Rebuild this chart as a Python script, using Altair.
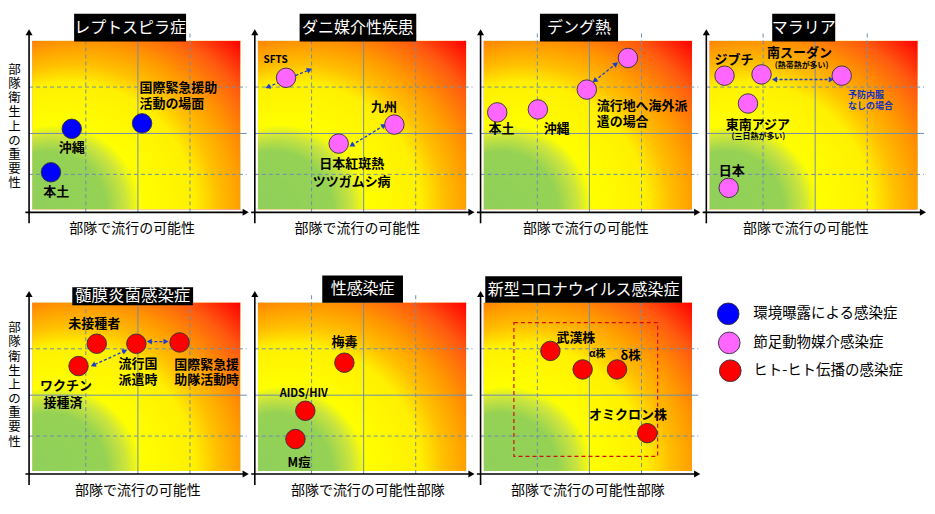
import math
import altair as alt
import pandas as pd

# ---------------- data ----------------
titles = ["レプトスピラ症", "ダニ媒介性疾患", "デング熱", "マラリア",
          "髄膜炎菌感染症", "性感染症", "新型コロナウイルス感染症"]
x_titles = ["部隊で流行の可能性"] * 5 + ["部隊で流行の可能性部隊"] * 2
y_title = "部隊衛生上の重要性"

kinds = ["環境曝露による感染症", "節足動物媒介感染症", "ヒト-ヒト伝播の感染症"]
panel_kind = [0, 1, 1, 1, 2, 2, 2]

# circles (panel, x = 流行の可能性, y = 重要性)
pt_panel = [0, 0, 0, 1, 1, 1, 2, 2, 2, 2, 3, 3, 3, 3, 3, 4, 4, 4, 4, 5, 5, 5, 6, 6, 6, 6]
pt_x = [0.76, 0.36, 2.11, 0.54, 2.62, 1.55, 0.26, 1.04, 1.98, 2.77,
        0.29, 1.00, 2.54, 0.74, 0.37, 1.24, 2.00, 2.83, 0.89,
        1.66, 0.91, 0.72, 1.28, 1.90, 2.56, 3.14]
pt_y = [1.91, 0.88, 2.04, 3.12, 2.01, 1.56, 2.30, 2.37, 2.84, 3.59,
        3.17, 3.20, 3.17, 2.51, 0.51, 3.02, 3.02, 3.05, 2.49,
        2.57, 1.43, 0.76, 2.85, 2.41, 2.41, 0.90]

# point labels
lab_panel = [0, 0, 0, 0,
             1, 1, 1, 1,
             2, 2, 2, 2,
             3, 3, 3, 3, 3, 3, 3, 3,
             4, 4, 4, 4, 4, 4, 4,
             5, 5, 5,
             6, 6, 6, 6]
lab_text = ["国際緊急援助", "活動の場面", "沖縄", "本土",
            "SFTS", "九州", "日本紅斑熱", "ツツガムシ病",
            "本土", "沖縄", "流行地へ海外派", "遣の場合",
            "ジブチ", "南スーダン", "(熱帯熱が多い)", "予防内服", "なしの場合",
            "東南アジア", "(三日熱が多い)", "日本",
            "未接種者", "流行国", "派遣時", "国際緊急援", "助隊活動時", "ワクチン", "接種済",
            "梅毒", "AIDS/HIV", "M痘",
            "武漢株", "α株", "δ株", "オミクロン株"]
lab_x = [2.06, 2.06, 0.76, 0.46,
         0.34, 2.42, 1.80, 1.80,
         0.34, 1.40, 2.17, 2.17,
         0.47, 1.73, 1.77, 2.66, 2.66, 0.93, 0.94, 0.43,
         1.19, 2.03, 2.03, 3.35, 3.35, 0.65, 0.59,
         1.66, 0.88, 0.79,
         1.77, 2.18, 2.82, 2.77]
lab_y = [2.87, 2.49, 1.46, 0.41,
         3.55, 2.43, 1.08, 0.64,
         1.91, 1.91, 2.44, 2.08,
         3.55, 3.71, 3.41, 2.72, 2.45, 2.01, 1.71, 0.91,
         3.48, 2.53, 2.17, 2.51, 2.16, 2.01, 1.62,
         3.06, 1.82, 0.19,
         3.16, 2.77, 2.73, 1.33]

# dashed double arrows
arr_panel = [1, 1, 2, 3, 4, 4]
arr_x1 = [0.19, 1.80, 2.13, 1.25, 2.25, 1.78]
arr_y1 = [2.90, 1.52, 3.05, 3.08, 3.07, 2.85]
arr_x2 = [0.99, 2.42, 2.54, 2.34, 2.57, 1.17]
arr_y2 = [3.31, 1.99, 3.45, 3.08, 3.07, 2.51]

# COVID-19 frame (panel 7)
covid_box = [0.58, 0.35, 3.34, 3.52]

# ---------------- layout / style ----------------
FONT = "Noto Sans CJK JP"
W, H = 220, 209
XD = [-0.1, 4.12]
YD = [-0.3, 4.65]
SX = W / (XD[1] - XD[0])
SY = H / (YD[1] - YD[0])
kind_colors = ["#0000ff", "#ff66ff", "#ff0000"]
grid_x = [1.03, 2.03, 3.03]
grid_y = [0.83, 1.80, 2.90]

title_cx = [1.88, 1.92, 1.83, 1.81, 1.93, 2.01, 1.92]
title_w = [2.15, 2.24, 1.50, 1.21, 2.32, 1.55, 3.78]
title_y0 = [3.98, 3.98, 3.98, 3.98, 3.93, 3.99, 3.99]
title_y1 = [4.64, 4.64, 4.64, 4.64, 4.36, 4.64, 4.62]
title_fs = [16, 16, 16, 16, 16.5, 16, 16]
xt_cx = [1.92, 1.91, 1.96, 1.85, 2.03, 2.11, 2.00]
yt_top = {0: 3.45, 4: 3.53}

lab_size = {"SFTS": 10, "(熱帯熱が多い)": 8, "(三日熱が多い)": 8, "予防内服": 9,
            "なしの場合": 9, "AIDS/HIV": 11, "M痘": 12.5, "α株": 10, "δ株": 12.5}
lab_left = {"国際緊急援助", "活動の場面", "流行地へ海外派", "遣の場合", "予防内服", "なしの場合"}
lab_blue = {"予防内服", "なしの場合"}

XS = alt.Scale(domain=XD, nice=False, zero=False)
YS = alt.Scale(domain=YD, nice=False, zero=False)


def X(f="x"):
    return alt.X(f, type="quantitative", scale=XS, axis=None)


def Y(f="y"):
    return alt.Y(f, type="quantitative", scale=YS, axis=None)


# radial gradient: focus at the bottom-left corner, centre shifted right so the
# colour bands are flatter vertically (green -> yellow -> orange -> red)
R2 = 1.07
GRAD = alt.RadialGradient(
    gradient="radial", x1=0, y1=0.905, r1=0, x2=0.28 * R2, y2=0.905, r2=R2,
    stops=[
        alt.GradientStop(offset=0.0, color="#8fd05c"),
        alt.GradientStop(offset=0.26, color="#95d254"),
        alt.GradientStop(offset=0.33, color="#cce53c"),
        alt.GradientStop(offset=0.38, color="#ffff00"),
        alt.GradientStop(offset=0.57, color="#fff000"),
        alt.GradientStop(offset=0.65, color="#ffc000"),
        alt.GradientStop(offset=0.74, color="#ff9a00"),
        alt.GradientStop(offset=0.87, color="#ff5a10"),
        alt.GradientStop(offset=1.0, color="#ff0000"),
    ])

pts = pd.DataFrame({"p": pt_panel, "x": pt_x, "y": pt_y})
pts["kind"] = [kinds[panel_kind[p]] for p in pt_panel]
labs = pd.DataFrame({"p": lab_panel, "x": lab_x, "y": lab_y, "t": lab_text})
labs["fs"] = [lab_size.get(t, 13) for t in lab_text]
labs["c"] = ["#1030c0" if t in lab_blue else "#000000" for t in lab_text]
labs["al"] = ["left" if t in lab_left else "center" for t in lab_text]
arrs = pd.DataFrame({"p": arr_panel, "x": arr_x1, "y": arr_y1, "x2": arr_x2, "y2": arr_y2})


def head_angle(xa, ya, xb, yb):
    dx = (xb - xa) * SX
    dy = -(yb - ya) * SY
    return math.degrees(math.atan2(dx, -dy)) % 360


heads = []
for r in arrs.itertuples():
    heads.append({"p": r.p, "x": r.x2, "y": r.y2, "a": head_angle(r.x, r.y, r.x2, r.y2)})
    heads.append({"p": r.p, "x": r.x, "y": r.y, "a": head_angle(r.x2, r.y2, r.x, r.y)})
heads = pd.DataFrame(heads)

GRID_COL = "#6f8db0"
kind_scale = alt.Scale(domain=kinds, range=kind_colors)


def panel(i):
    layers = []
    layers.append(alt.Chart(pd.DataFrame({"x": [0], "x2": [4], "y": [0], "y2": [4]}))
                  .mark_rect(fill=GRAD).encode(x=X(), x2="x2", y=Y(), y2="y2"))
    gv = pd.DataFrame({"x": grid_x, "y": [-0.07] * 3, "y2": [4.2] * 3, "solid": [0, 1, 0]})
    gh = pd.DataFrame({"y": grid_y, "x": [-0.06] * 3, "x2": [4.12] * 3, "solid": [0, 1, 0]})
    for df, enc in ((gv, dict(x=X(), y=Y(), y2="y2")), (gh, dict(x=X(), x2="x2", y=Y()))):
        layers.append(alt.Chart(df[df.solid == 0]).mark_rule(color=GRID_COL, strokeDash=[4, 3], strokeWidth=1).encode(**enc))
        layers.append(alt.Chart(df[df.solid == 1]).mark_rule(color=GRID_COL, strokeWidth=1).encode(**enc))
    ax = pd.DataFrame({"x": [-0.06, -0.13], "x2": [-0.06, 4.1], "y": [-0.33, -0.07], "y2": [4.22, -0.07]})
    layers.append(alt.Chart(ax).mark_rule(color="black", strokeWidth=1.6).encode(x=X(), x2="x2", y=Y(), y2="y2"))
    layers.append(alt.Chart(pd.DataFrame({"x": [-0.06], "y": [4.2]}))
                  .mark_point(shape="triangle-up", filled=True, size=50, color="black", opacity=1).encode(x=X(), y=Y()))
    layers.append(alt.Chart(pd.DataFrame({"x": [4.1], "y": [-0.07]}))
                  .mark_point(shape="triangle-right", filled=True, size=50, color="black", opacity=1).encode(x=X(), y=Y()))
    if i == 6:
        cb = pd.DataFrame({"x": [covid_box[0]], "y": [covid_box[1]], "x2": [covid_box[2]], "y2": [covid_box[3]]})
        layers.append(alt.Chart(cb).mark_rect(fill=None, stroke="#d01010", strokeDash=[4, 3], strokeWidth=1.2)
                      .encode(x=X(), x2="x2", y=Y(), y2="y2"))
    a = arrs[arrs.p == i]
    if len(a):
        layers.append(alt.Chart(a).mark_rule(color="#1a3fd0", strokeDash=[3, 2], strokeWidth=1.3)
                      .encode(x=X(), x2="x2", y=Y(), y2="y2"))
        hd = heads[heads.p == i]
        layers.append(alt.Chart(hd).mark_point(shape="triangle-up", filled=True, size=34, color="#1a3fd0", opacity=1)
                      .encode(x=X(), y=Y(), angle=alt.Angle("a:Q", scale=None)))
    pp = pts[pts.p == i]
    layers.append(alt.Chart(pp).mark_circle(size=380, stroke="#30303a", strokeWidth=0.9, opacity=1)
                  .encode(x=X(), y=Y(), color=alt.Color("kind:N", scale=kind_scale, legend=None)))
    lb = labs[labs.p == i]
    for al in ("center", "left"):
        sub = lb[lb.al == al]
        if len(sub):
            layers.append(alt.Chart(sub).mark_text(font=FONT, fontWeight="bold", align=al, baseline="middle")
                          .encode(x=X(), y=Y(), text="t:N", size=alt.Size("fs:Q", scale=None),
                                  color=alt.Color("c:N", scale=None)))
    tb = pd.DataFrame({"x": [title_cx[i] - title_w[i] / 2], "x2": [title_cx[i] + title_w[i] / 2],
                       "y": [title_y0[i]], "y2": [title_y1[i]], "t": [titles[i]],
                       "ym": [(title_y0[i] + title_y1[i]) / 2], "xm": [title_cx[i]]})
    layers.append(alt.Chart(tb).mark_rect(color="black").encode(x=X(), x2="x2", y=Y(), y2="y2"))
    layers.append(alt.Chart(tb).mark_text(font=FONT, fontSize=title_fs[i], color="white", baseline="middle")
                  .encode(x=X("xm"), y=Y("ym"), text="t:N"))
    xt = pd.DataFrame({"x": [xt_cx[i]], "y": [-0.47], "t": [x_titles[i]]})
    layers.append(alt.Chart(xt).mark_text(font=FONT, fontSize=14, color="black", baseline="middle")
                  .encode(x=X(), y=Y(), text="t:N"))
    if i in yt_top:
        yt = pd.DataFrame({"x": [-0.34], "y": [yt_top[i]]})
        layers.append(alt.Chart(yt).mark_text(font=FONT, fontSize=12.5, lineHeight=14.2, color="black",
                                              baseline="top", text=list(y_title))
                      .encode(x=X(), y=Y()))
    return alt.layer(*layers).properties(width=W, height=H)


def legend_panel():
    lg = pd.DataFrame({"kind": kinds, "x": [0.36, 0.38, 0.40], "y": [3.73, 3.04, 2.38],
                       "tx": [0.84, 0.84, 0.84]})
    c = alt.Chart(lg).mark_circle(size=470, stroke="#30303a", strokeWidth=0.9, opacity=1).encode(
        x=X(), y=Y(), color=alt.Color("kind:N", scale=kind_scale, legend=None))
    t = alt.Chart(lg).mark_text(font=FONT, fontSize=14.5, align="left", baseline="middle", color="black").encode(
        x=X("tx"), y=Y(), text="kind:N")
    return alt.layer(c, t).properties(width=W, height=H)


panels = [panel(i) for i in range(7)] + [legend_panel()]
chart = (alt.concat(*panels, columns=4, spacing=alt.RowColnumber(row=53, column=6), bounds="flush")
         .properties(padding={"left": 0, "top": 5, "right": 0, "bottom": 5}, background="white")
         .configure_view(stroke=None))

chart.save("out.html", embed_options={"renderer": "svg", "actions": False})
